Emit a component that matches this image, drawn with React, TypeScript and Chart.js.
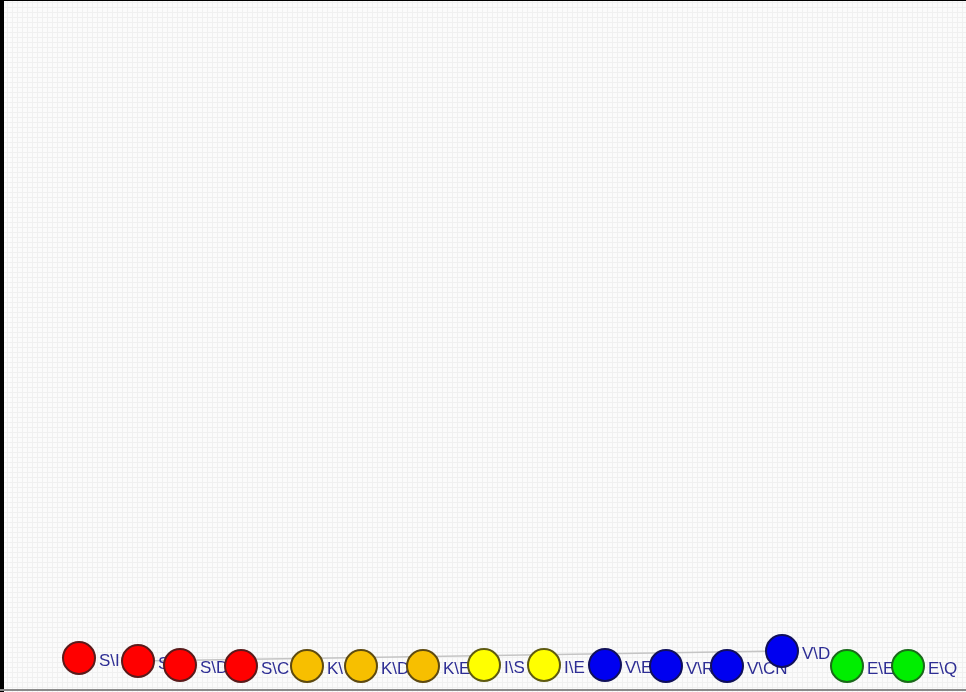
import React, { useEffect, useRef } from "react";
import { Chart, registerables } from "chart.js";

Chart.register(...registerables);

// Node labels (as visible, partly hidden by the next node)
const nodeLabels = ["S\\I", "S\\", "S\\D", "S\\C", "K\\", "K\\D", "K\\E", "I\\S", "I\\E", "V\\E", "V\\R", "V\\CN", "V\\D", "E\\E", "E\\Q"];
const nodeGroups = ["S", "S", "S", "S", "K", "K", "K", "I", "I", "V", "V", "V", "V", "E", "E"];
const nodeX = [79, 138, 180, 241, 307, 361, 423, 484, 544, 605, 666, 727, 782, 847, 908];
const nodeY = [658, 661, 665, 666, 666, 666, 666, 665, 665, 665, 666, 666, 651, 666, 666];
// Edge between nodes (indices)
const edgeFrom = [1];
const edgeTo = [12];

const groupFill: Record<string, string> = {
  S: "#ff0000",
  K: "#f7bf00",
  I: "#ffff00",
  V: "#0000f0",
  E: "#00ee00",
};
const groupBorder: Record<string, string> = {
  S: "#5a1a1a",
  K: "#5e4a10",
  I: "#5e5a10",
  V: "#10105a",
  E: "#1a6a1a",
};

export default function App() {
  const ref = useRef<HTMLCanvasElement>(null);
  useEffect(() => {
    document.body.style.margin = "0";
    const canvas = ref.current!;
    const bgPlugin = {
      id: "bg",
      beforeDraw(chart: any) {
        const ctx = chart.ctx;
        const w = chart.width;
        const h = chart.height;
        ctx.save();
        ctx.fillStyle = "#fbfbfb";
        ctx.fillRect(0, 0, w, h);
        ctx.strokeStyle = "#f0f0f0";
        ctx.lineWidth = 1;
        ctx.beginPath();
        for (let x = 2.5; x < w; x += 5) {
          ctx.moveTo(x, 0);
          ctx.lineTo(x, h);
        }
        for (let y = 2.5; y < h; y += 5) {
          ctx.moveTo(0, y);
          ctx.lineTo(w, y);
        }
        ctx.stroke();
        ctx.fillStyle = "#000000";
        ctx.fillRect(0, 0, w, 1);
        ctx.fillRect(0, 0, 4, h);
        ctx.fillStyle = "#8a8a8a";
        ctx.fillRect(0, h - 3, w, 2);
        ctx.restore();
      },
    };
    const labelPlugin = {
      id: "nodeLabels",
      afterDatasetDraw(chart: any, args: any) {
        if (args.index !== 1) return;
        const ctx = chart.ctx;
        const xs = chart.scales.x;
        const ys = chart.scales.y;
        ctx.save();
        ctx.font = "17px Arial, 'Liberation Sans', sans-serif";
        ctx.fillStyle = "#2e2e94";
        ctx.textBaseline = "middle";
        ctx.textAlign = "left";
        nodeLabels.forEach((l, i) => {
          const px = xs.getPixelForValue(nodeX[i]);
          const py = ys.getPixelForValue(nodeY[i]);
          ctx.fillText(l, px + 20, py + 3);
        });
        ctx.restore();
      },
    };
    const edgeData: any[] = [];
    edgeFrom.forEach((f, k) => {
      edgeData.push({ x: nodeX[f], y: nodeY[f] });
      edgeData.push({ x: nodeX[edgeTo[k]], y: nodeY[edgeTo[k]] });
    });
    const chart = new Chart(canvas, {
      type: "scatter",
      data: {
        datasets: [
          {
            data: nodeX.map((x, i) => ({ x, y: nodeY[i] })),
            pointRadius: 16,
            pointHoverRadius: 16,
            pointBorderWidth: 2,
            pointBackgroundColor: nodeGroups.map((g) => groupFill[g]),
            pointBorderColor: nodeGroups.map((g) => groupBorder[g]),
            showLine: false,
            clip: false,
          },
          {
            data: edgeData,
            showLine: true,
            borderColor: "#c4c4c4",
            borderWidth: 1.5,
            pointRadius: 0,
            pointHoverRadius: 0,
            clip: false,
          },
        ],
      },
      options: {
        animation: false,
        responsive: false,
        events: [],
        layout: { padding: 0, autoPadding: false },
        plugins: { legend: { display: false }, tooltip: { enabled: false } },
        scales: {
          x: { type: "linear", min: 0, max: 966, display: false },
          y: { type: "linear", min: 0, max: 692, reverse: true, display: false },
        },
      },
      plugins: [bgPlugin, labelPlugin],
    });
    return () => chart.destroy();
  }, []);
  return <canvas ref={ref} width={966} height={692} style={{ display: "block" }} />;
}
